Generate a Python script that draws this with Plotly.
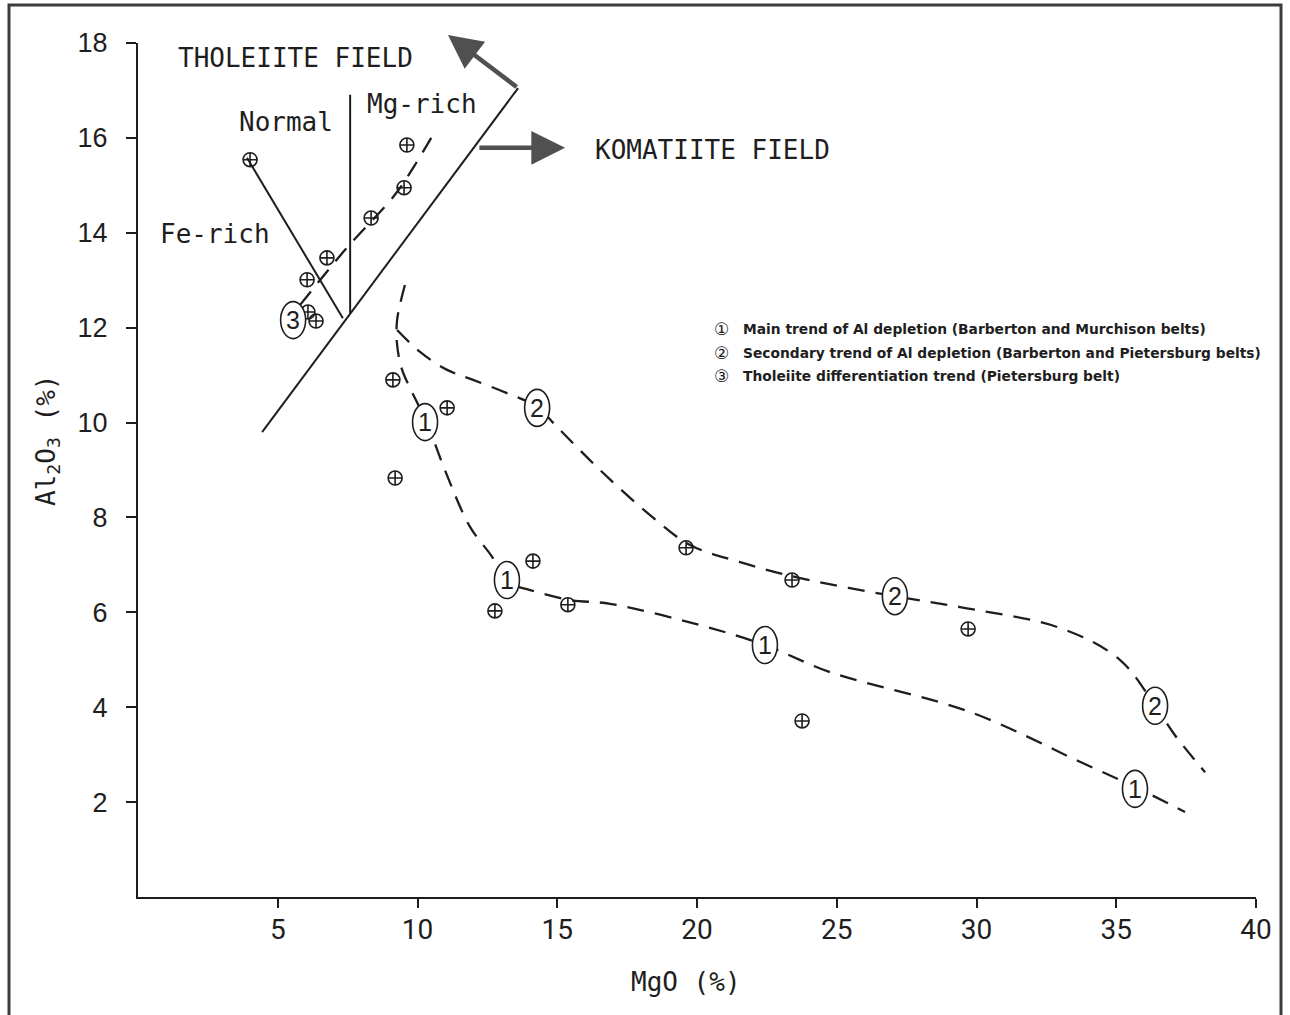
import plotly.graph_objects as go

# ---------------- data ----------------
# analysed samples (MgO %, Al2O3 %)
sample_mgo = [4.01, 6.05, 6.76, 8.34, 9.52, 9.62, 6.08, 6.37,
              9.12, 11.06, 9.20, 14.13, 12.77, 15.38, 19.61, 23.40, 29.70, 23.76]
sample_al2o3 = [15.54, 13.01, 13.47, 14.31, 14.95, 15.85, 12.33, 12.14,
                10.90, 10.31, 8.83, 7.08, 6.03, 6.16, 7.36, 6.68, 5.65, 3.71]

# tholeiite / komatiite field boundary lines
boundary_mgo = [4.44, 13.60]
boundary_al2o3 = [9.80, 17.05]
fe_rich_mgo = [3.90, 7.33]
fe_rich_al2o3 = [15.58, 12.20]
normal_mgo = [7.59, 7.59]
normal_al2o3 = [16.91, 12.31]

# trend 1: main trend of Al depletion
trend1_mgo = [9.55, 9.27, 9.27, 9.45, 9.80, 10.34, 10.98, 11.88, 12.67, 13.20, 14.03,
              15.46, 16.89, 20.11, 22.43, 24.76, 29.77, 33.70, 35.74, 37.46]
trend1_al2o3 = [12.90, 12.16, 11.64, 11.11, 10.65, 9.99, 9.00, 7.80, 7.17, 6.64, 6.47,
                6.26, 6.18, 5.73, 5.31, 4.74, 3.90, 2.85, 2.30, 1.79]
# trend 2: secondary trend of Al depletion
trend2_mgo = [9.27, 10.09, 11.06, 11.99, 13.20, 14.28, 14.99, 16.53, 18.32, 19.75, 21.54,
              23.69, 27.08, 29.41, 32.99, 35.13, 36.39, 37.10, 38.18]
trend2_al2o3 = [11.95, 11.49, 11.11, 10.90, 10.62, 10.33, 9.91, 9.00, 8.05, 7.42, 7.06,
                6.72, 6.34, 6.11, 5.67, 5.00, 4.03, 3.41, 2.63]
# trend 3: tholeiite differentiation trend
trend3_mgo = [5.80, 7.41, 9.19, 9.91, 10.55]
trend3_al2o3 = [12.48, 13.64, 14.80, 15.43, 16.06]

# circled trend numbers on the curves
trend_label_text = ["3", "1", "2", "1", "2", "1", "2", "1"]
trend_label_mgo = [5.55, 10.27, 14.28, 13.20, 27.08, 22.43, 36.39, 35.67]
trend_label_al2o3 = [12.16, 10.01, 10.31, 6.68, 6.34, 5.31, 4.03, 2.28]

# field names
field_text = ["THOLEIITE FIELD", "Normal", "Mg-rich", "Fe-rich", "KOMATIITE FIELD"]
field_mgo = [5.62, 5.30, 10.16, 2.75, 20.57]
field_al2o3 = [17.69, 16.34, 16.72, 13.98, 15.75]

# arrows (tail -> head)
arrow_tail_mgo = [13.60, 12.16]
arrow_tail_al2o3 = [17.05, 15.79]
arrow_head_mgo = [11.09, 15.28]
arrow_head_al2o3 = [18.17, 15.79]

# key
key_symbols = ["\u2460", "\u2461", "\u2462"]
key_text = [
    "Main trend of Al depletion (Barberton and Murchison belts)",
    "Secondary trend of Al depletion (Barberton and Pietersburg belts)",
    "Tholeiite differentiation trend (Pietersburg belt)",
]
key_symbol_mgo = 20.86
key_text_mgo = 21.57
key_al2o3 = [11.97, 11.47, 10.98]

x_ticks = [5, 10, 15, 20, 25, 30, 35, 40]
y_ticks = [2, 4, 6, 8, 10, 12, 14, 16, 18]

# ---------------- figure ----------------
W, H = 1290, 1015
ML, MR, MT, MB = 138, 34, 43, 118
INK = "#1e1e1e"
MONO = "DejaVu Sans Mono, Liberation Mono, monospace"


def paper_x(px):
    return (px - ML) / (W - ML - MR)


def paper_y(py):
    return (H - MB - py) / (H - MT - MB)


fig = go.Figure()

solid = dict(color=INK, width=2)
for xs, ys in [(boundary_mgo, boundary_al2o3), (fe_rich_mgo, fe_rich_al2o3),
               (normal_mgo, normal_al2o3)]:
    fig.add_trace(go.Scatter(x=xs, y=ys, mode="lines", line=solid,
                             showlegend=False, hoverinfo="skip", cliponaxis=False))

dashed = dict(color=INK, width=2.3, dash="17px,11px")
for xs, ys in [(trend1_mgo, trend1_al2o3), (trend2_mgo, trend2_al2o3),
               (trend3_mgo, trend3_al2o3)]:
    fig.add_trace(go.Scatter(x=xs, y=ys, mode="lines", line=dashed,
                             line_shape="spline", showlegend=False, hoverinfo="skip"))

fig.add_trace(go.Scatter(
    x=sample_mgo, y=sample_al2o3, mode="markers",
    marker=dict(symbol="circle-cross-open", size=14, color=INK,
                line=dict(width=1.6, color=INK)),
    showlegend=False, hoverinfo="skip"))

shapes = []
annotations = []

# circled trend numbers: white ellipse hides the dashed line beneath
for t, x, y in zip(trend_label_text, trend_label_mgo, trend_label_al2o3):
    shapes.append(dict(type="circle", xref="x", yref="y", xsizemode="pixel",
                       ysizemode="pixel", xanchor=x, yanchor=y,
                       x0=-12.5, x1=12.5, y0=-18.5, y1=18.5,
                       fillcolor="white", line=dict(color=INK, width=1.6),
                       layer="above"))
    annotations.append(dict(x=x, y=y, xref="x", yref="y", text=t, showarrow=False,
                            font=dict(family="Liberation Sans, Arial", size=25, color=INK)))

for t, x, y in zip(field_text, field_mgo, field_al2o3):
    annotations.append(dict(x=x, y=y, xref="x", yref="y", text=t, showarrow=False,
                            font=dict(family=MONO, size=26, color=INK)))

for tx, ty, hx, hy in zip(arrow_tail_mgo, arrow_tail_al2o3, arrow_head_mgo, arrow_head_al2o3):
    annotations.append(dict(x=hx, y=hy, ax=tx, ay=ty, xref="x", yref="y",
                            axref="x", ayref="y", text="", showarrow=True,
                            arrowhead=2, arrowsize=1.5, arrowwidth=4.5,
                            arrowcolor="#505050"))

for s, t, y in zip(key_symbols, key_text, key_al2o3):
    annotations.append(dict(x=key_symbol_mgo, y=y, xref="x", yref="y", text=s,
                            showarrow=False, xanchor="center",
                            font=dict(family="DejaVu Sans", size=17, color=INK)))
    annotations.append(dict(x=key_text_mgo, y=y, xref="x", yref="y", text=t,
                            showarrow=False, xanchor="left",
                            font=dict(family="DejaVu Sans", size=13.8, color=INK,
                                      weight="bold")))

# axis titles
annotations.append(dict(x=paper_x(686), y=paper_y(982), xref="paper", yref="paper",
                        xanchor="center", yanchor="middle",
                        text="MgO (%)", showarrow=False,
                        font=dict(family=MONO, size=26, color=INK)))
annotations.append(dict(x=paper_x(48), y=paper_y(440), xref="paper", yref="paper",
                        xanchor="center", yanchor="middle",
                        text="Al<sub>2</sub>O<sub>3</sub> (%)", showarrow=False,
                        textangle=-90,
                        font=dict(family=MONO, size=26, color=INK)))

# outer frame of the scanned figure
shapes.append(dict(type="rect", xref="paper", yref="paper",
                   x0=paper_x(9), x1=paper_x(1281), y0=paper_y(1022), y1=paper_y(5),
                   line=dict(color="#3c3c3c", width=3), fillcolor="rgba(0,0,0,0)",
                   layer="below"))

fig.update_layout(
    width=W, height=H,
    margin=dict(l=ML, r=MR, t=MT, b=MB),
    paper_bgcolor="white", plot_bgcolor="white",
    shapes=shapes, annotations=annotations,
    showlegend=False,
)
fig.update_xaxes(range=[0, 40], tickvals=x_ticks, ticktext=[str(v) for v in x_ticks],
                 showline=True, linecolor=INK, linewidth=2, mirror=False,
                 ticks="outside", ticklen=9, tickwidth=2, tickcolor=INK,
                 showgrid=False, zeroline=False, ticklabelstandoff=-3,
                 automargin=False,
                 tickfont=dict(family="Roboto, Liberation Sans", size=28, color=INK))
fig.update_yaxes(range=[0, 18], tickvals=y_ticks, ticktext=[str(v) for v in y_ticks],
                 showline=True, linecolor=INK, linewidth=2, mirror=False,
                 ticks="outside", ticklen=10, tickwidth=2, tickcolor=INK,
                 showgrid=False, zeroline=False, ticklabelstandoff=13,
                 automargin=False,
                 tickfont=dict(family="Liberation Sans, Arial", size=27, color=INK))

fig.write_html("out.html",
               config={"displayModeBar": False},
               post_script="document.body.style.margin='0';"
                           "document.body.style.overflow='hidden';")
